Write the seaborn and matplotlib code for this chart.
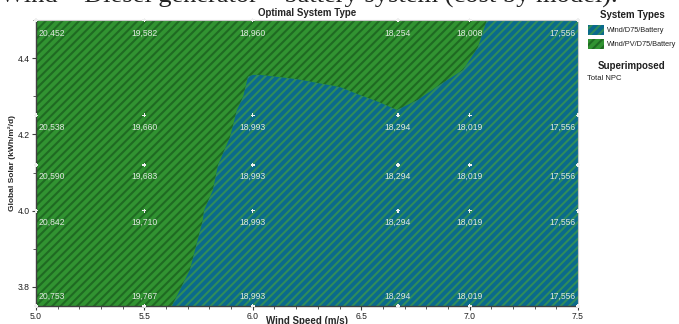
import numpy as np
import pandas as pd
import matplotlib
matplotlib.use("Agg")
import matplotlib.pyplot as plt
from matplotlib.patches import Rectangle
from matplotlib.ticker import MultipleLocator
import seaborn as sns

# Sensitivity grid: wind speed (m/s) x global solar (kWh/m²/d)
wind_speeds = [5.0, 5.5, 6.0, 6.67, 7.0, 7.5]
solar_levels = [4.5, 4.25, 4.12, 4.0, 3.75]

# Total NPC at each grid point, one list per solar level
npc_450 = [20452, 19582, 18960, 18254, 18008, 17556]
npc_425 = [20538, 19660, 18993, 18294, 18019, 17556]
npc_412 = [20590, 19683, 18993, 18294, 18019, 17556]
npc_400 = [20842, 19710, 18993, 18294, 18019, 17556]
npc_375 = [20753, 19767, 18993, 18294, 18019, 17556]

# Boundary between the two optimal system types (wind, solar)
boundary_wind = [5.627, 5.664, 5.71, 5.77, 5.775, 5.816, 5.84, 5.895, 5.927,
                 5.955, 5.978, 6.0, 6.033, 6.2, 6.402, 6.494, 6.58, 6.665,
                 6.76, 6.863, 6.97, 7.039, 7.08]
boundary_solar = [3.75, 3.792, 3.845, 3.976, 4.0, 4.054, 4.12, 4.193, 4.264,
                  4.298, 4.351, 4.356, 4.356, 4.345, 4.324, 4.303, 4.285, 4.264,
                  4.29, 4.33, 4.369, 4.429, 4.5]

system_types = ["Wind/D75/Battery", "Wind/PV/D75/Battery"]

BLUE, BLUE_HATCH = "#0a6a8c", "#2f8c5c"
GREEN, GREEN_HATCH = "#319331", "#1f6a22"

sns.set_style("white")
plt.rcParams["font.family"] = ["Liberation Sans", "DejaVu Sans"]
plt.rcParams["hatch.linewidth"] = 1.5

fig = plt.figure(figsize=(6.79, 3.24), dpi=100)
ax = fig.add_axes([36 / 679, 18 / 324, 542 / 679, 286 / 324])

xmin, xmax = 5.0, 7.5
ymin, ymax = 3.75, 4.5

# Region where PV is part of the optimal system (whole field, overdrawn below)
ax.fill([xmin, xmax, xmax, xmin], [ymin, ymin, ymax, ymax],
        facecolor=GREEN, edgecolor=GREEN_HATCH, hatch="////", lw=0, zorder=1)

# Region where the optimal system has no PV
bx = list(boundary_wind) + [xmax, xmax]
by = list(boundary_solar) + [ymax, ymin]
ax.fill(bx, by, facecolor=BLUE, edgecolor=BLUE_HATCH, hatch="////", lw=0, zorder=2)

# Grid points and NPC labels
npc_rows = [npc_450, npc_425, npc_412, npc_400, npc_375]
records = []
for s, row in zip(solar_levels, npc_rows):
    for w, v in zip(wind_speeds, row):
        records.append({"wind": w, "solar": s, "npc": v})
df = pd.DataFrame(records)

sns.scatterplot(data=df, x="wind", y="solar", marker="P", s=9, color="#f0f0f0",
                edgecolor="none", ax=ax, zorder=4, clip_on=False, legend=False)

for _, r in df.iterrows():
    w, s, v = r["wind"], r["solar"], int(r["npc"])
    ha = "center"
    dx = 0
    if w == xmin:
        ha, dx = "left", 1.5
    elif w == xmax:
        ha, dx = "right", -1.5
    dy = 7 if s == ymin else -8.5
    if s == ymax:
        dy = -9.5
    ax.annotate(f"{v:,}", (w, s), xytext=(dx, dy), textcoords="offset points",
                ha=ha, va="center", fontsize=6.2, color="#dfe8df", zorder=5)

ax.set_xlim(xmin, xmax)
ax.set_ylim(ymin, ymax)
ax.set_xticks([5.0, 5.5, 6.0, 6.5, 7.0, 7.5])
ax.set_yticks([3.8, 4.0, 4.2, 4.4])
ax.xaxis.set_minor_locator(MultipleLocator(0.1))
ax.yaxis.set_minor_locator(MultipleLocator(0.1))
ax.tick_params(axis="both", which="major", direction="out", length=3, width=0.8,
               labelsize=6.2, color="#404040", labelcolor="#202020", pad=1.5,
               bottom=True, left=True)
ax.tick_params(axis="both", which="minor", direction="out", length=2, width=0.6,
               color="#404040", bottom=True, left=True)
ax.set_xlabel("")
ax.set_ylabel("")

for side in ["left", "bottom"]:
    ax.spines[side].set_color("#404040")
    ax.spines[side].set_linewidth(1.0)
for side in ["top", "right"]:
    ax.spines[side].set_color("#c8c8c8")
    ax.spines[side].set_linewidth(0.8)

fig.text(307 / 679, 1 - 13 / 324, "Optimal System Type", ha="center", va="center",
         fontsize=7, fontweight="bold")
fig.text(307 / 679, 1 - 321 / 324, "Wind Speed (m/s)", ha="center", va="center",
         fontsize=7, fontweight="bold")
fig.text(12 / 679, 1 - 163 / 324, "Global Solar (kWh/m²/d)", ha="center",
         va="center", rotation=90, fontsize=6, fontweight="bold")

# Caption line from the surrounding page, cut at the top edge
fig.text(0.0, 1 - 3 / 324, "Wind – Diesel generator – battery system (cost by model).",
         ha="left", va="baseline", fontsize=19, family="Liberation Serif",
         color="#222222")

# Legend
fig.text(632 / 679, 1 - 15 / 324, "System Types", ha="center", va="center",
         fontsize=7, fontweight="bold", color="#202020")
for i, (name, fc, hc) in enumerate([(system_types[0], BLUE, BLUE_HATCH),
                                     (system_types[1], GREEN, GREEN_HATCH)]):
    yc = 30 + i * 14
    fig.patches.append(Rectangle((588 / 679, 1 - (yc + 5) / 324), 16 / 679, 10 / 324,
                                 transform=fig.transFigure, facecolor=fc,
                                 edgecolor=hc, hatch="////", lw=0))
    fig.text(607 / 679, 1 - yc / 324, name, ha="left", va="center", fontsize=5.3,
             color="#202020")
fig.text(632 / 679, 1 - 66 / 324, "Superimposed", ha="center", va="center",
         fontsize=7, fontweight="bold", color="#202020")
fig.text(587 / 679, 1 - 79 / 324, "Total NPC", ha="left", va="center",
         fontsize=5.5, color="#202020")

fig.savefig("out.png", dpi=100)
